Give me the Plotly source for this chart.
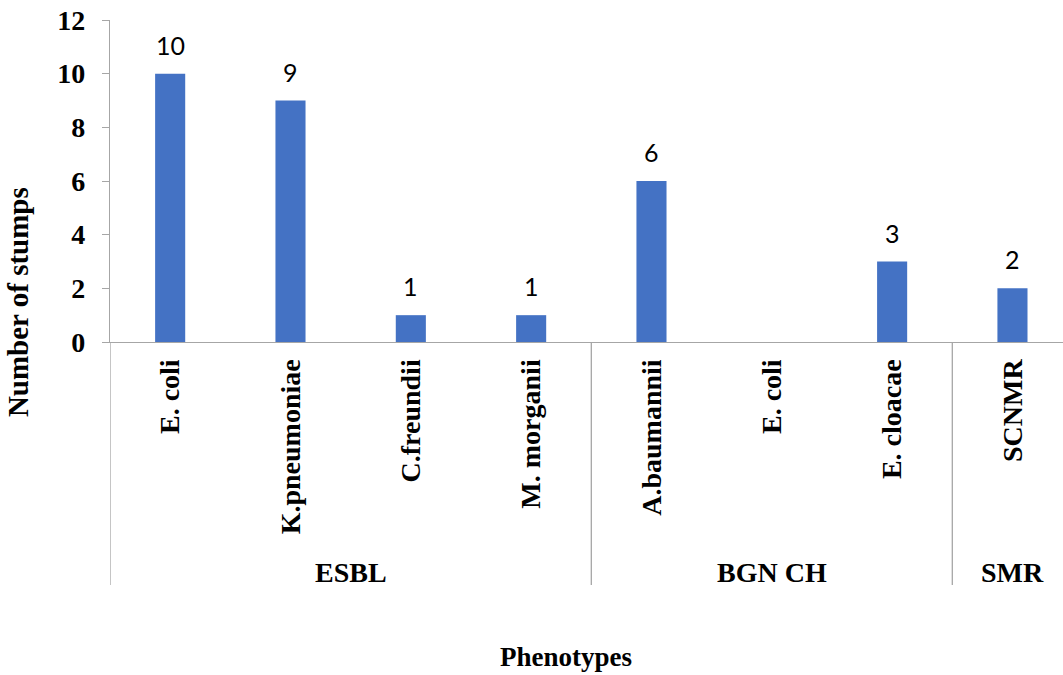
import plotly.graph_objects as go

groups = ["ESBL", "ESBL", "ESBL", "ESBL", "BGN CH", "BGN CH", "BGN CH", "SMR"]
species = ["E. coli", "K.pneumoniae", "C.freundii", "M. morganii",
           "A.baumannii", "E. coli", "E. cloacae", "SCNMR"]
counts = [10, 9, 1, 1, 6, None, 3, 2]
y_ticks = [0, 2, 4, 6, 8, 10, 12]

x_idx = list(range(len(species)))

serif = "Liberation Serif, Times New Roman, serif"
axis_gray = "#A6A6A6"

fig = go.Figure()
fig.add_trace(go.Bar(
    x=x_idx, y=[v if v is not None else 0 for v in counts],
    width=0.25, marker=dict(color="#4472C4", line=dict(width=0)),
))

# data labels above bars
for i, v in enumerate(counts):
    if v is None:
        continue
    fig.add_annotation(x=i, y=v, xref="x", yref="y", text=str(v), showarrow=False,
                       yanchor="bottom", yshift=12,
                       font=dict(family="Lato, Open Sans, sans-serif", size=25, color="#000000"))

# group dividers and group labels
bounds = []
prev = None
for i, g in enumerate(groups):
    if g != prev:
        bounds.append(i - 0.5)
        prev = g
bounds.append(len(groups) - 0.5)
for b in bounds:
    fig.add_shape(type="line", xref="x", yref="paper", x0=b, x1=b, y0=0, y1=-0.755,
                  line=dict(color=axis_gray, width=1.3))

seen = []
for g in groups:
    if g not in seen:
        seen.append(g)
for g in seen:
    idx = [i for i, gg in enumerate(groups) if gg == g]
    fig.add_annotation(x=(idx[0] + idx[-1]) / 2, y=-0.717, xref="x", yref="paper",
                       text=f"<b>{g}</b>", showarrow=False, yanchor="middle",
                       font=dict(family=serif, size=28, color="#000000"))

fig.add_annotation(x=0.478, y=-1.031, xref="paper", yref="paper", text="<b>Phenotypes</b>",
                   showarrow=False, yanchor="bottom",
                   font=dict(family=serif, size=27, color="#000000"))
fig.add_annotation(x=-0.0965, y=0.124, xref="paper", yref="paper", text="<b>Number of stumps</b>",
                   showarrow=False, textangle=-90, xanchor="center", yanchor="middle",
                   font=dict(family=serif, size=29, color="#000000"))

fig.update_layout(
    width=1063, height=675,
    margin=dict(l=110, r=0, t=20, b=333, autoexpand=False),
    paper_bgcolor="white", plot_bgcolor="white",
    showlegend=False,
    xaxis=dict(
        range=[-0.5, 7.42], tickmode="array", tickvals=x_idx,
        ticktext=[f"<b>{s}</b>" for s in species], tickangle=-90,
        tickfont=dict(family=serif, size=28, color="#000000"),
        ticks="", showline=True, linecolor=axis_gray, linewidth=1.3,
        ticklabelstandoff=5, showgrid=False, zeroline=False, fixedrange=True,
        automargin=False,
    ),
    yaxis=dict(
        range=[0, 12], tickmode="array", tickvals=y_ticks,
        ticktext=[f"<b>{t}</b>" for t in y_ticks],
        tickfont=dict(family=serif, size=28, color="#000000"),
        ticks="outside", ticklen=7, tickcolor=axis_gray, tickwidth=1.3,
        showline=True, linecolor=axis_gray, linewidth=1.3,
        showgrid=False, zeroline=False, ticklabelstandoff=11, automargin=False,
    ),
)

fig.write_html("out.html", config={"displayModeBar": False},
               post_script="document.body.style.margin='0';document.body.style.overflow='hidden';")
